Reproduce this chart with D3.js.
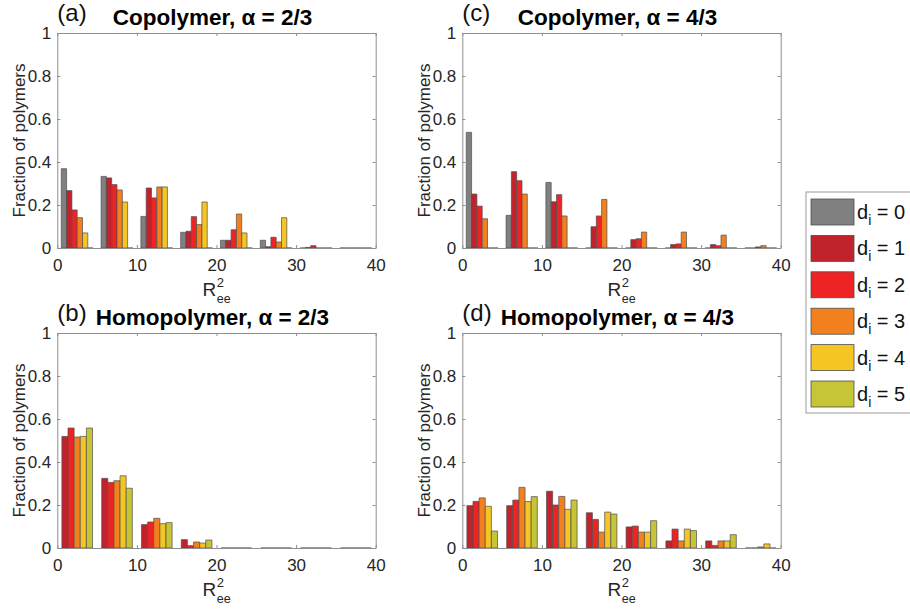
<!DOCTYPE html>
<html>
<head>
<meta charset="utf-8">
<script src="https://cdn.jsdelivr.net/npm/d3@7/dist/d3.min.js"></script>
<style>
  html, body { margin: 0; padding: 0; background: #fff; }
  svg { display: block; font-family: "Liberation Sans", Arial, Helvetica, sans-serif; }
</style>
</head>
<body>
<svg id="fig" width="910" height="610"></svg>
<script>
// R_ee^2 histogram bins (width 5) and axis ticks
const binCenters = [2.5, 7.5, 12.5, 17.5, 22.5, 27.5, 32.5, 37.5];
const xTicks = [0, 10, 20, 30, 40];
const yTicks = [0, 0.2, 0.4, 0.6, 0.8, 1];

// number of defects d_i and their colours
const defectLevels = [0, 1, 2, 3, 4, 5];
const defectColors = ["#808080", "#c1222b", "#ee2424", "#f3801f", "#f5c623", "#c5c535"];

// fraction of polymers per bin, one row per d_i
const copolymer23 = [
  [0.369, 0.333, 0.147, 0.073, 0.036, 0.036, 0, 0],
  [0.267, 0.326, 0.279, 0.078, 0.036, 0.006, 0.003, 0],
  [0.177, 0.295, 0.233, 0.146, 0.085, 0.050, 0.011, 0],
  [0.141, 0.270, 0.284, 0.109, 0.158, 0.028, 0, 0],
  [0.070, 0.214, 0.284, 0.214, 0.070, 0.141, 0, 0],
  [0, 0, 0, 0, 0, 0, 0, 0]
];
const copolymer43 = [
  [0.538, 0.152, 0.305, 0, 0, 0, 0, 0],
  [0.251, 0.355, 0.215, 0.099, 0.039, 0.016, 0.016, 0],
  [0.195, 0.313, 0.248, 0.149, 0.043, 0.019, 0.011, 0.005],
  [0.136, 0.251, 0.149, 0.226, 0.074, 0.074, 0.060, 0.011],
  [0, 0, 0, 0, 0, 0, 0, 0],
  [0, 0, 0, 0, 0, 0, 0, 0]
];
// homopolymers have d_i = 1..5 only
const homopolymer23 = [
  [0.519, 0.324, 0.109, 0.039, 0, 0, 0, 0],
  [0.558, 0.305, 0.121, 0.011, 0, 0, 0, 0],
  [0.516, 0.313, 0.138, 0.028, 0, 0, 0, 0],
  [0.519, 0.336, 0.113, 0.023, 0, 0, 0, 0],
  [0.558, 0.278, 0.118, 0.037, 0, 0, 0, 0]
];
const homopolymer43 = [
  [0.197, 0.197, 0.264, 0.164, 0.098, 0.033, 0.033, 0],
  [0.217, 0.223, 0.200, 0.133, 0.102, 0.088, 0.012, 0],
  [0.233, 0.282, 0.240, 0.074, 0.074, 0.033, 0.033, 0.005],
  [0.194, 0.216, 0.180, 0.167, 0.074, 0.088, 0.033, 0.019],
  [0.079, 0.239, 0.223, 0.158, 0.127, 0.081, 0.062, 0]
];

const panels = [
  { tag: "(a)", title: "Copolymer, α = 2/3",   levels: [0,1,2,3,4,5], values: copolymer23,   left: 57.3,  top: 33 },
  { tag: "(b)", title: "Homopolymer, α = 2/3", levels: [1,2,3,4,5],   values: homopolymer23, left: 57.3,  top: 333 },
  { tag: "(c)", title: "Copolymer, α = 4/3",   levels: [0,1,2,3,4,5], values: copolymer43,   left: 462.3, top: 33 },
  { tag: "(d)", title: "Homopolymer, α = 4/3", levels: [1,2,3,4,5],   values: homopolymer43, left: 462.3, top: 333 }
];

const W = 318.4, H = 215;
const binWidth = 5;
const axisColor = "#8f8f8f";
const textColor = "#262626";
const barEdge = "#4f4f4f";

const svg = d3.select("#fig");

panels.forEach(p => {
  const g = svg.append("g").attr("transform", `translate(${p.left},${p.top})`);
  const x = d3.scaleLinear().domain([0, 40]).range([0, W]);
  const y = d3.scaleLinear().domain([0, 1]).range([H, 0]);

  // grouped bars: group width follows the usual n/(n+1.5) rule
  const n = p.levels.length;
  const groupFrac = Math.min(0.8, n / (n + 1.5));
  const gw = groupFrac * binWidth;
  const inner = d3.scaleBand().domain(p.levels).range([-gw / 2, gw / 2]).paddingInner(0);

  const bars = [];
  p.levels.forEach((lvl, si) => {
    p.values[si].forEach((v, bi) => {
      if (v == null) return;
      bars.push({ lvl, v, c: binCenters[bi] });
    });
  });

  g.selectAll("path.bar").data(bars).join("path")
    .attr("class", "bar")
    .attr("d", d => {
      const x0 = x(d.c + inner(d.lvl));
      const x1 = x(d.c + inner(d.lvl) + inner.bandwidth());
      const y0 = y(0), y1 = y(d.v);
      const pth = d3.path();
      pth.moveTo(x0, y0); pth.lineTo(x0, y1); pth.lineTo(x1, y1); pth.lineTo(x1, y0); pth.closePath();
      return pth.toString();
    })
    .attr("fill", d => defectColors[d.lvl])
    .attr("stroke", barEdge)
    .attr("stroke-width", 0.7);

  // axes box with inward ticks on all four sides
  const tl = 3;
  const bottom = g.append("g").attr("transform", `translate(0,${H})`)
    .call(d3.axisBottom(x).tickValues(xTicks).tickSizeInner(-tl).tickSizeOuter(0).tickPadding(11).tickFormat(d3.format("d")));
  const top = g.append("g")
    .call(d3.axisTop(x).tickValues(xTicks).tickSizeInner(-tl).tickSizeOuter(0).tickFormat(""));
  const left = g.append("g")
    .call(d3.axisLeft(y).tickValues(yTicks).tickSizeInner(-tl).tickSizeOuter(0).tickPadding(6).tickFormat(d => d === 0 ? "0" : d === 1 ? "1" : d3.format(".1f")(d)));
  const right = g.append("g").attr("transform", `translate(${W},0)`)
    .call(d3.axisRight(y).tickValues(yTicks).tickSizeInner(-tl).tickSizeOuter(0).tickFormat(""));
  [bottom, top, left, right].forEach(a => {
    a.select(".domain").attr("stroke", axisColor).attr("stroke-width", 1);
    a.selectAll(".tick line").attr("stroke", axisColor).attr("stroke-width", 1);
    a.selectAll(".tick text").attr("fill", textColor).attr("font-size", 17)
      .attr("font-family", "Liberation Sans, Arial, Helvetica, sans-serif");
  });

  // panel tag and title
  g.append("text").attr("x", 0).attr("y", -12).attr("font-size", 24).attr("fill", "#111")
    .text(p.tag);
  g.append("text").attr("x", W / 2 - 4).attr("y", -8).attr("text-anchor", "middle")
    .attr("font-size", 22.5).attr("font-weight", "bold").attr("fill", "#000")
    .text(p.title);

  // y label
  g.append("text").attr("transform", `translate(${-32},${H / 2}) rotate(-90)`)
    .attr("text-anchor", "middle").attr("font-size", 17).attr("fill", textColor)
    .text("Fraction of polymers");

  // x label: R_ee^2 as one text with super- and subscript
  const xl = g.append("text").attr("transform", `translate(${W / 2 - 14},${H + 48})`)
    .attr("fill", textColor).attr("font-size", 19);
  xl.append("tspan").attr("x", 0).attr("y", 0).text("R");
  xl.append("tspan").attr("x", 14.2).attr("y", -9).attr("font-size", 13).text("2");
  xl.append("tspan").attr("x", 14.2).attr("y", 6.5).attr("font-size", 12.5).text("ee");
});

// legend
const lg = svg.append("g").attr("transform", "translate(806,192)");
lg.append("rect").attr("x", 0).attr("y", 0).attr("width", 120).attr("height", 221)
  .attr("fill", "#fff").attr("stroke", "#9a9a9a").attr("stroke-width", 1);
const rows = lg.selectAll("g.row").data(defectLevels).join("g")
  .attr("class", "row")
  .attr("transform", (d, i) => `translate(5,${7 + i * 36.4})`);
rows.append("rect").attr("width", 43).attr("height", 26)
  .attr("fill", d => defectColors[d]).attr("stroke", barEdge).attr("stroke-width", 0.8);
const lt = rows.append("text").attr("x", 46).attr("y", 20).attr("font-size", 20).attr("fill", "#111");
lt.append("tspan").text("d");
lt.append("tspan").attr("dy", 6).attr("font-size", 14).text("i");
lt.append("tspan").attr("dy", -6).text(d => ` = ${d}`);
</script>
</body>
</html>
